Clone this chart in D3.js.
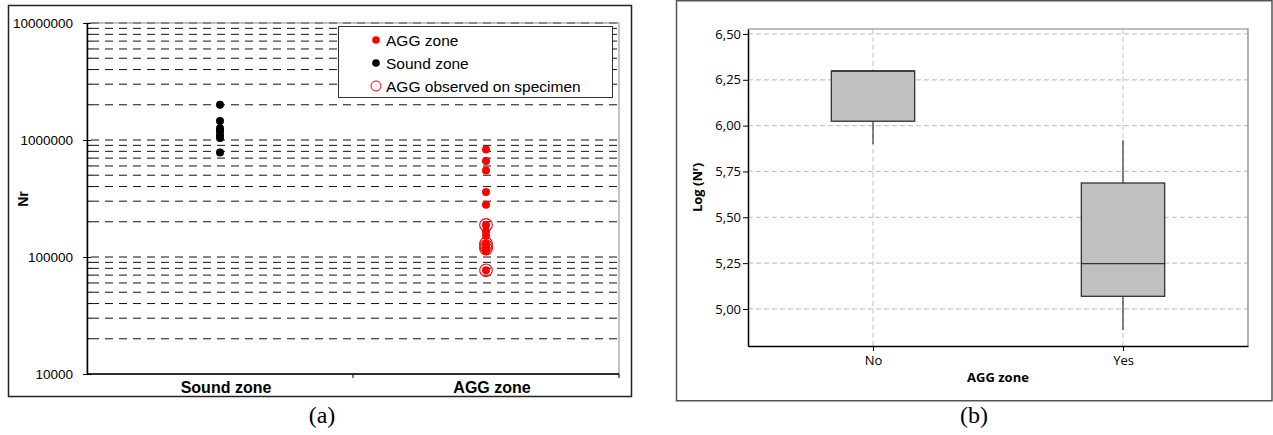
<!DOCTYPE html>
<html lang="en">

<head>
  <meta charset="UTF-8">
  <title>Nr by zone</title>
  <style>
    body { margin: 0; background: #fff; }
  </style>
</head>

<body>
  <svg width="1273" height="435"></svg>
  <script src="https://d3js.org/d3.v7.min.js"></script>
  <script>
    // (a) Nr values per zone
    var zonesA = ["Sound zone", "AGG zone"];
    var soundZone = [2000000, 1450000, 1260000, 1180000, 1100000, 1040000, 780000];
    var aggZone = [830000, 660000, 550000, 360000, 280000, 188000, 165000, 152000, 130000, 124000, 118000, 112000, 77000];
    var aggObserved = [188000, 130000, 124000, 118000, 77000];
    var decadeTicks = [10000, 100000, 1000000, 10000000];
    var legendLabels = ["AGG zone", "Sound zone", "AGG observed on specimen"];

    // (b) box plot of Log(Nr)
    var zonesB = ["No", "Yes"];
    var whiskerLow = [5.898, 4.885];
    var q1 = [6.024, 5.069];
    var median = [6.298, 5.247];
    var q3 = [6.298, 5.687];
    var whiskerHigh = [6.298, 5.92];
    var logTicks = [5.00, 5.25, 5.50, 5.75, 6.00, 6.25, 6.50];

    var svg = d3.select("svg");
    var arial = "'Liberation Sans', Arial, sans-serif";
    var sans = "'Open Sans', 'Noto Sans', sans-serif";
    var serif = "'Liberation Serif', 'Times New Roman', serif";

    // ---------- panel (a) ----------
    svg.append("rect")
      .attr("x", 8.5).attr("y", 5.5)
      .attr("width", 623).attr("height", 391)
      .attr("fill", "none").attr("stroke", "#222").attr("stroke-width", 1.5);

    var ma = { left: 87, right: 619, top: 23, bottom: 374 };
    var xA = d3.scaleBand().domain(zonesA).range([ma.left, ma.right]);
    var yA = d3.scaleLog().domain([1e4, 1e7]).range([ma.bottom, ma.top]);

    var ga = svg.append("g");

    // dashed gridlines at every log tick
    ga.selectAll("line.grid")
      .data(yA.ticks().filter(function (d) { return d > 1e4; }))
      .enter().append("line")
      .attr("class", "grid")
      .attr("x1", ma.left + 4).attr("x2", ma.right)
      .attr("y1", function (d) { return yA(d); })
      .attr("y2", function (d) { return yA(d); })
      .attr("stroke", "#111").attr("stroke-width", 1)
      .attr("stroke-dasharray", "8,6");

    // plot area border
    ga.append("rect")
      .attr("x", ma.left).attr("y", ma.top)
      .attr("width", ma.right - ma.left).attr("height", ma.bottom - ma.top)
      .attr("fill", "none").attr("stroke", "#888").attr("stroke-width", 1);

    // y axis
    var axA = ga.append("g")
      .attr("transform", "translate(" + ma.left + ",0)")
      .call(d3.axisLeft(yA).tickValues(decadeTicks).tickFormat(d3.format("d"))
        .tickSize(4).tickSizeOuter(0).tickPadding(10));
    axA.select(".domain").attr("stroke", "#000").attr("stroke-width", 1.5);
    axA.selectAll(".tick line").attr("x2", -4).attr("x1", 4).attr("stroke", "#000");
    axA.selectAll("text").attr("fill", "#000")
      .style("font-family", arial).style("font-size", "13.5px");

    // minor ticks
    ga.selectAll("line.minor")
      .data(yA.ticks().filter(function (d) { return decadeTicks.indexOf(d) < 0; }))
      .enter().append("line")
      .attr("class", "minor")
      .attr("x1", ma.left).attr("x2", ma.left + 4)
      .attr("y1", function (d) { return yA(d); })
      .attr("y2", function (d) { return yA(d); })
      .attr("stroke", "#000");

    // x axis
    ga.append("line")
      .attr("x1", ma.left).attr("x2", ma.right)
      .attr("y1", ma.bottom).attr("y2", ma.bottom)
      .attr("stroke", "#000").attr("stroke-width", 1.5);
    ga.selectAll("line.xtick")
      .data(zonesA)
      .enter().append("line")
      .attr("class", "xtick")
      .attr("x1", function (d) { return xA(d) + xA.bandwidth(); })
      .attr("x2", function (d) { return xA(d) + xA.bandwidth(); })
      .attr("y1", ma.bottom).attr("y2", ma.bottom + 4)
      .attr("stroke", "#000");
    ga.selectAll("text.cat")
      .data(zonesA)
      .enter().append("text")
      .attr("class", "cat")
      .attr("x", function (d) { return xA(d) + xA.bandwidth() / 2 + 6; })
      .attr("y", 393)
      .attr("text-anchor", "middle")
      .style("font-family", arial).style("font-size", "16px").style("font-weight", "bold")
      .text(function (d) { return d; });

    // y title
    ga.append("text")
      .attr("transform", "translate(28,199)rotate(-90)")
      .attr("text-anchor", "middle")
      .style("font-family", arial).style("font-size", "14px").style("font-weight", "bold")
      .text("Nr");

    // points
    var cxSound = xA(zonesA[0]) + xA.bandwidth() / 2;
    var cxAgg = xA(zonesA[1]) + xA.bandwidth() / 2;

    ga.selectAll("circle.sound")
      .data(soundZone)
      .enter().append("circle")
      .attr("class", "sound")
      .attr("cx", cxSound)
      .attr("cy", function (d) { return yA(d); })
      .attr("r", 4)
      .attr("fill", "#000");

    ga.selectAll("circle.agg")
      .data(aggZone)
      .enter().append("circle")
      .attr("class", "agg")
      .attr("cx", cxAgg)
      .attr("cy", function (d) { return yA(d); })
      .attr("r", 4)
      .attr("fill", "#ff0000");

    ga.selectAll("circle.obs")
      .data(aggObserved)
      .enter().append("circle")
      .attr("class", "obs")
      .attr("cx", cxAgg)
      .attr("cy", function (d) { return yA(d); })
      .attr("r", 6.3)
      .attr("fill", "none")
      .attr("stroke", "#ff0000").attr("stroke-width", 1.1);

    // legend
    var lg = ga.append("g");
    lg.append("rect")
      .attr("x", 338.5).attr("y", 26.5)
      .attr("width", 274).attr("height", 71)
      .attr("fill", "#fff").attr("stroke", "#333").attr("stroke-width", 1);
    var rows = lg.selectAll("g.row")
      .data(legendLabels)
      .enter().append("g")
      .attr("class", "row")
      .attr("transform", function (d, i) { return "translate(376," + (40 + i * 23) + ")"; });
    rows.append("circle")
      .attr("r", function (d, i) { return i === 2 ? 5 : 3.8; })
      .attr("fill", function (d, i) { return i === 0 ? "#ff0000" : (i === 1 ? "#000" : "none"); })
      .attr("stroke", function (d, i) { return i === 2 ? "#ff0000" : "none"; })
      .attr("stroke-width", 1);
    rows.append("text")
      .attr("x", 10).attr("dy", "0.36em")
      .style("font-family", arial).style("font-size", "15.5px")
      .text(function (d) { return d; });

    svg.append("text")
      .attr("x", 322).attr("y", 423)
      .attr("text-anchor", "middle")
      .style("font-family", serif).style("font-size", "24px")
      .text("(a)");

    // ---------- panel (b) ----------
    svg.append("rect")
      .attr("x", 676.5).attr("y", 0.75)
      .attr("width", 595.5).attr("height", 400)
      .attr("fill", "none").attr("stroke", "#555").attr("stroke-width", 1.5);

    var mb = { left: 748, right: 1248, top: 29, bottom: 346 };
    var xB = d3.scalePoint().domain(zonesB).range([mb.left, mb.right]).padding(0.5);
    var yB = d3.scaleLinear().domain([4.798, 6.527]).range([mb.bottom, mb.top]);
    var commaFmt = d3.formatLocale({ decimal: ",", thousands: ".", grouping: [3], currency: ["", ""] }).format(".2f");

    var gb = svg.append("g");

    gb.selectAll("line.hgrid")
      .data(logTicks)
      .enter().append("line")
      .attr("class", "hgrid")
      .attr("x1", mb.left).attr("x2", mb.right)
      .attr("y1", function (d) { return yB(d); })
      .attr("y2", function (d) { return yB(d); })
      .attr("stroke", "#c8c8c8").attr("stroke-width", 1.3)
      .attr("stroke-dasharray", "5,3");

    gb.selectAll("line.vgrid")
      .data(zonesB)
      .enter().append("line")
      .attr("class", "vgrid")
      .attr("x1", function (d) { return xB(d); })
      .attr("x2", function (d) { return xB(d); })
      .attr("y1", mb.top).attr("y2", mb.bottom)
      .attr("stroke", "#d0d0d0").attr("stroke-width", 1.3)
      .attr("stroke-dasharray", "5,3");

    // top and right frame
    gb.append("path")
      .attr("d", "M" + mb.left + "," + mb.top + "H" + mb.right + "V" + mb.bottom)
      .attr("fill", "none").attr("stroke", "#808080").attr("stroke-width", 1.2);

    // whiskers
    var boxW = xB.step() / 3;
    var idx = d3.range(zonesB.length);
    gb.selectAll("line.wlow")
      .data(idx)
      .enter().append("line")
      .attr("class", "wlow")
      .attr("x1", function (i) { return xB(zonesB[i]); })
      .attr("x2", function (i) { return xB(zonesB[i]); })
      .attr("y1", function (i) { return yB(q1[i]); })
      .attr("y2", function (i) { return yB(whiskerLow[i]); })
      .attr("stroke", "#444").attr("stroke-width", 1.3);
    gb.selectAll("line.whigh")
      .data(idx)
      .enter().append("line")
      .attr("class", "whigh")
      .attr("x1", function (i) { return xB(zonesB[i]); })
      .attr("x2", function (i) { return xB(zonesB[i]); })
      .attr("y1", function (i) { return yB(q3[i]); })
      .attr("y2", function (i) { return yB(whiskerHigh[i]); })
      .attr("stroke", "#444").attr("stroke-width", 1.3);

    // boxes
    gb.selectAll("rect.box")
      .data(idx)
      .enter().append("rect")
      .attr("class", "box")
      .attr("x", function (i) { return xB(zonesB[i]) - boxW / 2; })
      .attr("y", function (i) { return yB(q3[i]); })
      .attr("width", boxW)
      .attr("height", function (i) { return yB(q1[i]) - yB(q3[i]); })
      .attr("fill", "#c0c0c0").attr("stroke", "#333").attr("stroke-width", 1.3);
    gb.selectAll("line.median")
      .data(idx)
      .enter().append("line")
      .attr("class", "median")
      .attr("x1", function (i) { return xB(zonesB[i]) - boxW / 2; })
      .attr("x2", function (i) { return xB(zonesB[i]) + boxW / 2; })
      .attr("y1", function (i) { return yB(median[i]); })
      .attr("y2", function (i) { return yB(median[i]); })
      .attr("stroke", "#333").attr("stroke-width", 1.3);

    // axes
    var axBy = gb.append("g")
      .attr("transform", "translate(" + mb.left + ",0)")
      .call(d3.axisLeft(yB).tickValues(logTicks).tickFormat(commaFmt)
        .tickSize(5).tickSizeOuter(0).tickPadding(2));
    var axBx = gb.append("g")
      .attr("transform", "translate(0," + mb.bottom + ")")
      .call(d3.axisBottom(xB).tickSize(5).tickSizeOuter(0).tickPadding(5));
    [axBy, axBx].forEach(function (ax) {
      ax.select(".domain").attr("stroke", "#000").attr("stroke-width", 1.5);
      ax.selectAll(".tick line").attr("stroke", "#000");
      ax.selectAll("text").attr("fill", "#000")
        .style("font-family", sans).style("font-size", "13px");
    });

    gb.append("text")
      .attr("x", (mb.left + mb.right) / 2).attr("y", 382)
      .attr("text-anchor", "middle")
      .style("font-family", sans).style("font-size", "13px").style("font-weight", "bold")
      .text("AGG zone");

    var yt = gb.append("text")
      .attr("transform", "translate(702," + (mb.top + mb.bottom) / 2 + ")rotate(-90)")
      .attr("text-anchor", "middle")
      .style("font-family", sans).style("font-size", "13px").style("font-weight", "bold");
    yt.append("tspan").text("Log (N");
    yt.append("tspan").style("font-size", "8px").attr("dy", -4).text("r");
    yt.append("tspan").attr("dy", 4).text(")");

    svg.append("text")
      .attr("x", 974).attr("y", 423)
      .attr("text-anchor", "middle")
      .style("font-family", serif).style("font-size", "24px")
      .text("(b)");
  </script>
</body>

</html>
